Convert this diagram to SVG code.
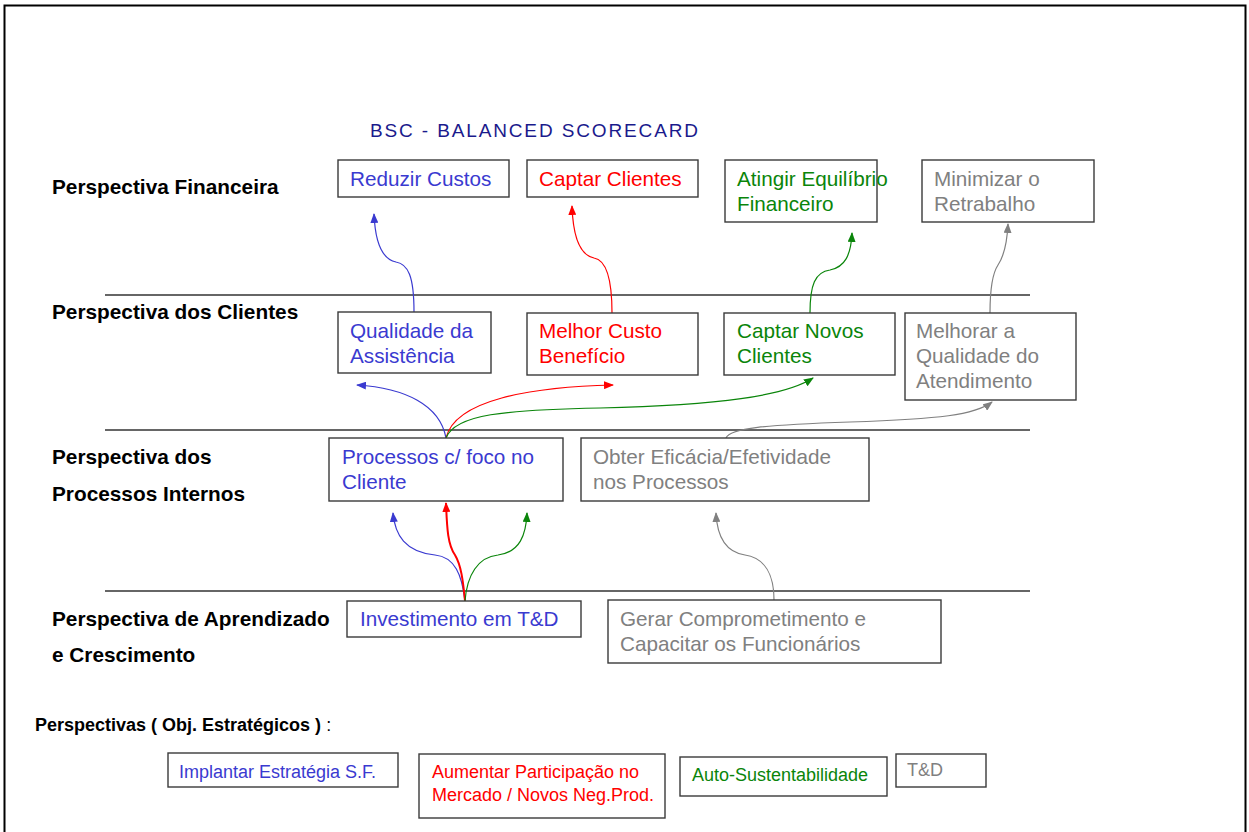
<svg xmlns="http://www.w3.org/2000/svg" width="1249" height="832" viewBox="0 0 1249 832">
<style>
.box{fill:#fff;stroke:#3a3a3a;stroke-width:1.4}
.t{font-family:"Liberation Sans",Arial,sans-serif;font-size:20.7px}
.s{font-family:"Liberation Sans",Arial,sans-serif;font-size:18px}
.lbl{font-family:"Liberation Sans",Arial,sans-serif;font-size:20.8px;font-weight:bold;fill:#000}
.b{fill:#3a3ad0}.r{fill:#ff0000}.g{fill:#0a850a}.y{fill:#808080}
.sep{stroke:#333;stroke-width:1.3}
.c{fill:none;stroke-width:1.2}
.cb{stroke:#3a3ad0;marker-end:url(#ab)}
.cr{stroke:#ff0000;marker-end:url(#ar)}
.cg{stroke:#0a850a;marker-end:url(#ag)}
.cy{stroke:#808080;marker-end:url(#ay)}
</style>
<defs>
<marker id="ab" markerWidth="10" markerHeight="8" refX="9" refY="4" orient="auto" markerUnits="userSpaceOnUse"><path d="M0,0 L10,4 L0,8 z" fill="#3a3ad0"/></marker>
<marker id="ar" markerWidth="10" markerHeight="8" refX="9" refY="4" orient="auto" markerUnits="userSpaceOnUse"><path d="M0,0 L10,4 L0,8 z" fill="#ff0000"/></marker>
<marker id="ag" markerWidth="10" markerHeight="8" refX="9" refY="4" orient="auto" markerUnits="userSpaceOnUse"><path d="M0,0 L10,4 L0,8 z" fill="#0a850a"/></marker>
<marker id="ay" markerWidth="10" markerHeight="8" refX="9" refY="4" orient="auto" markerUnits="userSpaceOnUse"><path d="M0,0 L10,4 L0,8 z" fill="#808080"/></marker>
</defs>
<rect x="0" y="0" width="1249" height="832" fill="#fff"/>
<rect x="4.5" y="5.5" width="1241" height="840" fill="none" stroke="#000" stroke-width="2"/>

<text x="370" y="137" font-family="Liberation Sans,Arial,sans-serif" font-size="19" fill="#1a1a8c" textLength="328" lengthAdjust="spacing">BSC - BALANCED SCORECARD</text>

<g id="separators">
<line class="sep" x1="105" y1="295" x2="1030" y2="295"/>
<line class="sep" x1="105" y1="430" x2="1030" y2="430"/>
<line class="sep" x1="105" y1="591" x2="1030" y2="591"/>
</g>

<g id="labels">
<text class="lbl" x="52" y="194">Perspectiva Financeira</text>
<text class="lbl" x="52" y="319">Perspectiva dos Clientes</text>
<text class="lbl" x="52" y="464">Perspectiva dos</text>
<text class="lbl" x="52" y="501">Processos Internos</text>
<text class="lbl" x="52" y="626">Perspectiva de Aprendizado</text>
<text class="lbl" x="52" y="662">e Crescimento</text>
</g>

<g id="connectors">
<path class="c cb" d="M414,312 C414,276 408,264 396,262 C381,259 375,238 374,214"/>
<path class="c cr" d="M612,313 C612,280 606,260 594,258 C579,255 573,236 572,206"/>
<path class="c cg" d="M810,313 C810,285 815,272 830,270 C845,267 851,255 852,233"/>
<path class="c cy" d="M990,313 C990,290 992,274 998,265 C1004,256 1007,245 1008,224"/>
<path class="c cb" d="M446,438 C440,405 405,388 357,385"/>
<path class="c cr" d="M446,438 C455,400 530,387 613,385"/>
<path class="c cg" d="M446,438 C455,414 505,410 600,408 C720,405 785,396 813,378"/>
<path class="c cy" d="M726,438 C730,428 765,425 850,422 C940,419 975,415 992,402"/>
<path class="c cb" d="M465,601 C462,575 455,557 435,555 C405,552 395,535 393,513"/>
<path class="c cr" style="stroke-width:2" d="M465,601 C463,580 461,565 455,555 C448,545 447,530 446,503"/>
<path class="c cg" d="M465,601 C467,575 478,557 498,555 C520,552 526,535 527,513"/>
<path class="c cy" d="M774,600 C774,575 765,558 745,555 C725,552 717,535 716,513"/>
</g>

<g id="reduzir"><rect class="box" x="338" y="160" width="171" height="37"/><text class="t b" x="350" y="186">Reduzir Custos</text></g>
<g id="captar"><rect class="box" x="527" y="160" width="171" height="37"/><text class="t r" x="539" y="186">Captar Clientes</text></g>
<g id="atingir"><rect class="box" x="725" y="160" width="152" height="62"/><text class="t g" x="737" y="186">Atingir Equilíbrio</text><text class="t g" x="737" y="211">Financeiro</text></g>
<g id="minimizar"><rect class="box" x="922" y="160" width="172" height="62"/><text class="t y" x="934" y="186">Minimizar o</text><text class="t y" x="934" y="211">Retrabalho</text></g>

<g id="qualidade"><rect class="box" x="338" y="312" width="153" height="61"/><text class="t b" x="350" y="338">Qualidade da</text><text class="t b" x="350" y="363">Assistência</text></g>
<g id="melhor"><rect class="box" x="527" y="313" width="171" height="62"/><text class="t r" x="539" y="338">Melhor Custo</text><text class="t r" x="539" y="363">Benefício</text></g>
<g id="novos"><rect class="box" x="724" y="313" width="171" height="62"/><text class="t g" x="737" y="338">Captar Novos</text><text class="t g" x="737" y="363">Clientes</text></g>
<g id="melhorar"><rect class="box" x="905" y="313" width="171" height="87"/><text class="t y" x="916" y="338">Melhorar a</text><text class="t y" x="916" y="363">Qualidade do</text><text class="t y" x="916" y="388">Atendimento</text></g>

<g id="processos"><rect class="box" x="329" y="438" width="234" height="63"/><text class="t b" x="342" y="464">Processos c/ foco no</text><text class="t b" x="342" y="489">Cliente</text></g>
<g id="obter"><rect class="box" x="581" y="438" width="288" height="63"/><text class="t y" x="593" y="464">Obter Eficácia/Efetividade</text><text class="t y" x="593" y="489">nos Processos</text></g>

<g id="investimento"><rect class="box" x="347" y="601" width="234" height="36"/><text class="t b" x="360" y="626">Investimento em T&amp;D</text></g>
<g id="gerar"><rect class="box" x="608" y="600" width="333" height="63"/><text class="t y" x="620" y="626">Gerar Comprometimento e</text><text class="t y" x="620" y="651">Capacitar os Funcionários</text></g>

<text x="35" y="731" font-family="Liberation Sans,Arial,sans-serif" font-size="18"><tspan font-weight="bold">Perspectivas ( Obj. Estratégicos )</tspan> :</text>

<g id="leg-implantar"><rect class="box" x="168" y="753" width="230" height="34"/><text class="s b" x="179" y="778">Implantar Estratégia S.F.</text></g>
<g id="leg-aumentar"><rect class="box" x="419" y="754" width="246" height="64"/><text class="s r" x="432" y="778">Aumentar Participação no</text><text class="s r" x="432" y="801">Mercado / Novos Neg.Prod.</text></g>
<g id="leg-auto"><rect class="box" x="680" y="757" width="207" height="39"/><text class="s g" x="692" y="781">Auto-Sustentabilidade</text></g>
<g id="leg-td"><rect class="box" x="896" y="754" width="90" height="33"/><text class="s y" x="907" y="776">T&amp;D</text></g>
</svg>
